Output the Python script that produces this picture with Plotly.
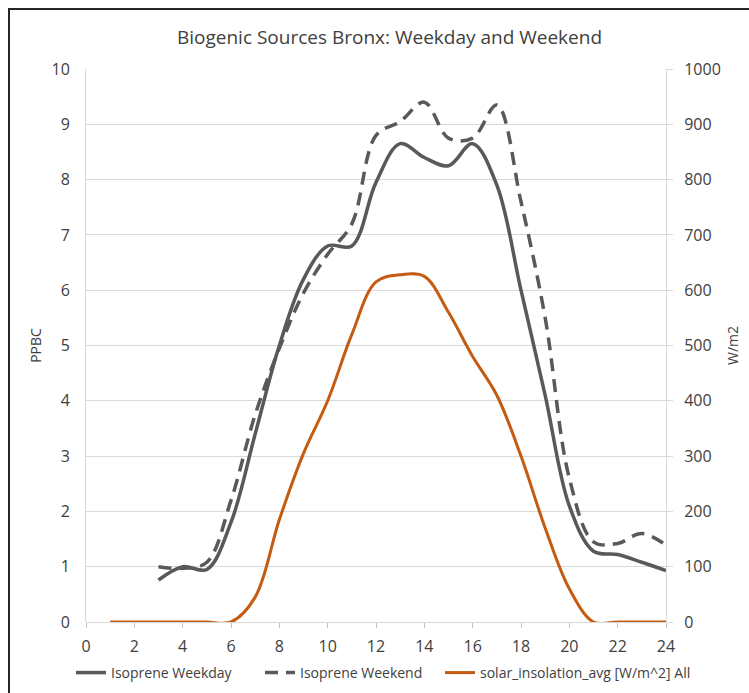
import plotly.graph_objects as go

hours_iso = [3, 4, 5, 6, 7, 8, 9, 10, 11, 12, 13, 14, 15, 16, 17, 18, 19, 20, 21, 22, 23, 24]
isoprene_weekday = [0.76, 1.0, 0.95, 1.8, 3.4, 5.0, 6.2, 6.8, 6.8, 7.95, 8.65, 8.4, 8.25, 8.65, 7.9, 6.0, 4.1, 2.1, 1.28, 1.22, 1.08, 0.93]
isoprene_weekend = [1.0, 0.97, 1.08, 2.2, 3.75, 4.95, 5.95, 6.65, 7.2, 8.8, 9.05, 9.4, 8.75, 8.75, 9.35, 7.6, 5.5, 2.6, 1.45, 1.42, 1.6, 1.39]

hours_solar = [1, 2, 3, 4, 5, 6, 7, 8, 9, 10, 11, 12, 13, 14, 15, 16, 17, 18, 19, 20, 21, 22, 23, 24]
solar_insolation = [0, 0, 0, 0, 0, 0, 45, 185, 305, 400, 520, 615, 628, 625, 560, 480, 410, 300, 170, 60, 0, 0, 0, 0]

x_ticks = list(range(0, 25, 2))

FONT = "Open Sans"
TXT = "#404040"

L, R, T, B = 86, 83, 69, 71
W, H = 749, 693
PW, PH = W - L - R, H - T - B

fig = go.Figure()
fig.add_trace(go.Scatter(x=hours_iso, y=isoprene_weekday, name="Isoprene Weekday", legend="legend",
                         mode="lines", line=dict(color="#595959", width=3.5, shape="spline", smoothing=1)))
fig.add_trace(go.Scatter(x=hours_iso, y=isoprene_weekend, name="Isoprene Weekend", legend="legend2",
                         mode="lines", line=dict(color="#595959", width=3.5, shape="spline", smoothing=1, dash="13px,8px")))
fig.add_trace(go.Scatter(x=hours_solar, y=solar_insolation, name="solar_insolation_avg [W/m^2] All",
                         legend="legend3", mode="lines", yaxis="y2",
                         line=dict(color="#C55A11", width=3, shape="spline", smoothing=1)))


def leg(text_start):
    return dict(orientation="h", xref="container", yref="container",
                x=(text_start - 40) / W, xanchor="left",
                y=1 - 673 / H, yanchor="middle",
                font=dict(size=14, color=TXT), bgcolor="rgba(0,0,0,0)")


fig.update_layout(
    width=W, height=H,
    margin=dict(l=L, r=R, t=T, b=B),
    paper_bgcolor="white", plot_bgcolor="white",
    font=dict(family=FONT, size=14, color=TXT),
    title=dict(text="Biogenic Sources Bronx: Weekday and Weekend", x=389.5 / W, xanchor="center",
               y=1 - 37 / H, yanchor="middle", font=dict(family=FONT, size=19, color=TXT)),
    xaxis=dict(range=[0, 24], tickvals=x_ticks, showgrid=False, zeroline=False,
               showline=False, ticks="outside", ticklen=5, tickcolor="#BFBFBF",
               ticklabelstandoff=5, automargin=False,
               tickfont=dict(size=16, color=TXT)),
    yaxis=dict(range=[0, 10], dtick=1, showgrid=True, gridcolor="#D9D9D9", gridwidth=1,
               zeroline=True, zerolinecolor="#D9D9D9", zerolinewidth=1,
               showline=True, linecolor="#D9D9D9", linewidth=1,
               ticks="", tickfont=dict(size=16, color=TXT), ticklabelstandoff=12,
               automargin=False,
               title=dict(text="PPBC", font=dict(size=14, color=TXT), standoff=6)),
    yaxis2=dict(range=[0, 1000], dtick=100, overlaying="y", side="right", showgrid=False,
                zeroline=False, showline=True, linecolor="#D9D9D9", linewidth=1,
                ticks="outside", ticklen=6, tickcolor="#D9D9D9", ticklabelstandoff=8,
                tickfont=dict(size=16, color=TXT), automargin=False,
                title=dict(text="W/m2", font=dict(size=14, color=TXT), standoff=8)),
    legend=leg(111),
    legend2=leg(300),
    legend3=leg(480),
    showlegend=True,
    shapes=[dict(type="rect", xref="paper", yref="paper",
                 x0=(9 - L) / PW, x1=(760 - L) / PW,
                 y0=(622 - 710) / PH, y1=(622 - 9) / PH,
                 line=dict(color="#262626", width=2), fillcolor="rgba(0,0,0,0)", layer="below")],
)

fig.write_html("out.html", config={"displayModeBar": False},
               post_script="document.body.style.margin='0';document.body.style.overflow='hidden';")
